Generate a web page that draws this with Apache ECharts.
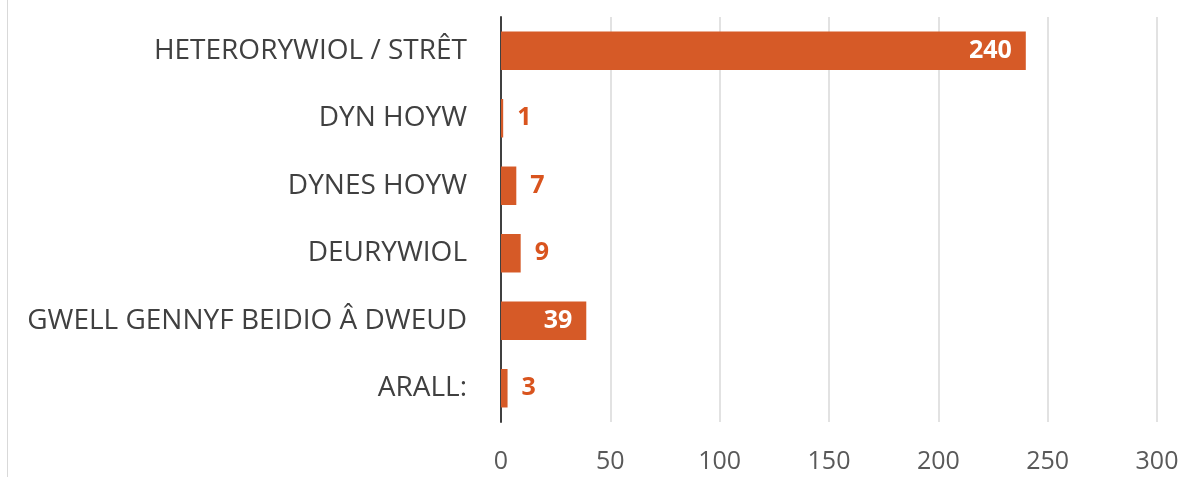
<!DOCTYPE html>
<html>
<head>
<meta charset="utf-8">
<script src="https://cdn.jsdelivr.net/npm/echarts@6/dist/echarts.min.js"></script>
<style>
  html, body { margin: 0; padding: 0; background: #fff; }
  #main { width: 1187px; height: 477px; position: relative; }
  #edge { position: absolute; left: 7px; top: 0; width: 1px; height: 477px; background: #d9d9d9; }
</style>
</head>
<body>
<div id="edge"></div>
<div id="main"></div>
<script>
// categories, top to bottom
const categories = [
  'HETERORYWIOL / STRÊT',
  'DYN HOYW',
  'DYNES HOYW',
  'DEURYWIOL',
  'GWELL GENNYF BEIDIO Â DWEUD',
  'ARALL:'
];
const values = [240, 1, 7, 9, 39, 3];
const xTicks = [0, 50, 100, 150, 200, 250, 300];

const orange = '#d65a27';
const chart = echarts.init(document.getElementById('main'));

const option = {
  animation: false,
  grid: { left: 501, right: 30, top: 17, bottom: 55 },
  xAxis: {
    type: 'value',
    min: xTicks[0],
    max: xTicks[xTicks.length - 1],
    interval: 50,
    axisLine: { show: false },
    axisTick: { show: false },
    axisLabel: { color: '#595959', fontSize: 25, fontFamily: 'Open Sans', margin: 27 },
    splitLine: { lineStyle: { color: '#d9d9d9', width: 1.5 } }
  },
  yAxis: {
    type: 'category',
    inverse: true,
    data: categories,
    axisLine: { lineStyle: { color: '#404040', width: 2 } },
    axisTick: { show: false },
    axisLabel: { color: '#404040', fontSize: 28, fontFamily: 'Open Sans', margin: 34 }
  },
  series: [{
    type: 'bar',
    data: values.map(v => ({
      value: v,
      label: v > 30
        ? { position: 'insideRight', color: '#fff', distance: 14 }
        : { position: 'right', color: '#d9541e', distance: 14 }
    })),
    barCategoryGap: '43%',
    itemStyle: { color: orange },
    label: {
      show: true,
      fontSize: 25,
      fontWeight: 'bold',
      fontFamily: 'Open Sans'
    }
  }]
};

chart.setOption(option);
</script>
</body>
</html>
